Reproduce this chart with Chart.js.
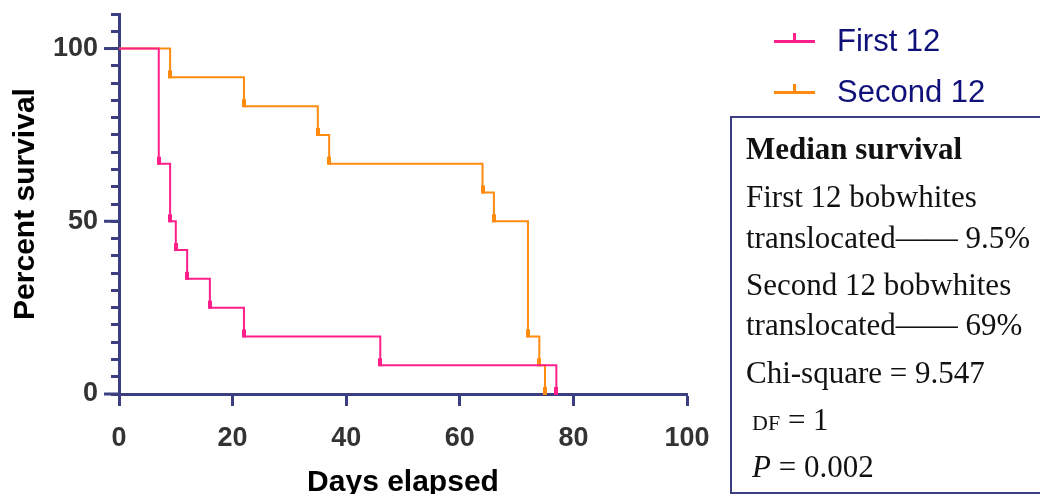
<!DOCTYPE html>
<html>
<head>
<meta charset="utf-8">
<script src="https://cdn.jsdelivr.net/npm/chart.js@4.4.1/dist/chart.umd.min.js"></script>
<style>
  html, body { margin: 0; padding: 0; background: #fff; }
  #wrap { position: relative; width: 1040px; height: 494px; overflow: hidden; }
  #c { position: absolute; left: 0; top: 0; }
  .leg { position: absolute; font-family: "Liberation Sans", Arial, sans-serif; font-size: 31px; color: #10107a; line-height: 31px; }
  .legline { position: absolute; width: 41px; height: 3px; }
  .legtick { position: absolute; width: 3px; height: 8px; }
  #box { position: absolute; left: 730px; top: 116px; width: 320px; height: 374px; border: 2px solid #3b3f82; box-sizing: content-box; }
  .bt { position: absolute; left: 746px; font-family: "Liberation Serif", "Times New Roman", serif; font-size: 31px; color: #111; white-space: nowrap; line-height: 1; }
</style>
</head>
<body>
<div id="wrap">
  <canvas id="c" width="1040" height="494"></canvas>
  <div id="legend"></div>
  <div id="box"></div>
  <div id="boxtext"></div>
</div>
<script>
// ---- Data ----
const seriesNames = ["First 12", "Second 12"];
const firstDays = [0, 7, 9, 10, 12, 16, 22, 46, 77];
const firstSurvival = [100, 66.67, 50, 41.67, 33.33, 25, 16.67, 8.33, 0];
const secondDays = [0, 9, 22, 35, 37, 64, 66, 72, 74, 75];
const secondSurvival = [100, 91.67, 83.33, 75, 66.67, 58.33, 50, 16.67, 8.33, 0];
const yMajorTicks = [0, 50, 100];
const xTickValues = [0, 20, 40, 60, 80, 100];
const boxLines = [
  "Median survival",
  "First 12 bobwhites",
  "translocated\u2014\u2014 9.5%",
  "Second 12 bobwhites",
  "translocated\u2014\u2014 69%",
  "Chi-square = 9.547",
  "DF = 1",
  "P = 0.002"
];

const PINK = "#ff1f8a";
const ORANGE = "#ff8a10";
const NAVY = "#3b3f82";

// censor-style marker: small bar sitting just above the point
function makeMarker(color) {
  const cv = document.createElement("canvas");
  cv.width = 4; cv.height = 16;
  const g = cv.getContext("2d");
  g.fillStyle = color;
  g.fillRect(0, 1, 4, 8);
  return cv;
}
const pinkMark = makeMarker(PINK);
const orangeMark = makeMarker(ORANGE);

function toPts(xs, ys) { return xs.map((x, i) => ({ x: x, y: ys[i] })); }

const majorTickPlugin = {
  id: "majorTicks",
  afterDatasetsDraw(chart) {
    const { ctx, chartArea, scales } = chart;
    ctx.save();
    ctx.strokeStyle = NAVY;
    ctx.lineWidth = 3;
    yMajorTicks.forEach(v => {
      const y = scales.y.getPixelForValue(v);
      ctx.beginPath();
      ctx.moveTo(chartArea.left - 15, y);
      ctx.lineTo(chartArea.left, y);
      ctx.stroke();
    });
    ctx.restore();
  }
};

new Chart(document.getElementById("c"), {
  type: "line",
  data: {
    datasets: [
      {
        label: seriesNames[0],
        data: toPts(firstDays, firstSurvival),
        borderColor: PINK,
        borderWidth: 2,
        stepped: "before",
        fill: false,
        pointStyle: ctx => ctx.dataIndex === 0 ? false : pinkMark,
        pointRadius: 4,
        clip: false
      },
      {
        label: seriesNames[1],
        data: toPts(secondDays, secondSurvival),
        borderColor: ORANGE,
        borderWidth: 2,
        stepped: "before",
        fill: false,
        pointStyle: ctx => ctx.dataIndex === 0 ? false : orangeMark,
        pointRadius: 4,
        clip: false
      }
    ]
  },
  options: {
    responsive: false,
    animation: false,
    devicePixelRatio: 1,
    layout: { padding: { left: 0, right: 353, top: 14, bottom: 0 } },
    plugins: { legend: { display: false }, tooltip: { enabled: false } },
    scales: {
      x: {
        type: "linear",
        min: 0, max: 100,
        afterBuildTicks: s => { s.ticks = xTickValues.map(v => ({ value: v })); },
        afterFit: s => { s.height = 100; s.paddingLeft = 0; s.paddingRight = 0; },
        border: { display: true, color: NAVY, width: 3 },
        grid: { display: true, drawOnChartArea: false, drawTicks: true, tickLength: 12, tickWidth: 3, tickColor: NAVY },
        ticks: { color: "#333", font: { family: "Liberation Sans, Arial", size: 27, weight: "bold" }, padding: 16, maxRotation: 0 },
        title: { display: true, text: "Days elapsed", color: "#000", font: { family: "Liberation Sans, Arial", size: 30, weight: "bold", lineHeight: 1.0 }, padding: { top: 8, bottom: -4 } }
      },
      y: {
        type: "linear",
        min: 0, max: 110,
        afterFit: s => { s.width = 119; s.paddingTop = 0; s.paddingBottom = 0; },
        border: { display: true, color: NAVY, width: 3 },
        grid: { display: true, drawOnChartArea: false, drawTicks: true, tickLength: 8, tickWidth: 3, tickColor: NAVY },
        ticks: {
          stepSize: 5, autoSkip: false,
          color: "#333",
          font: { family: "Liberation Sans, Arial", size: 27, weight: "bold" },
          padding: 13,
          callback: v => yMajorTicks.includes(v) ? String(v) : ""
        },
        title: { display: true, text: "Percent survival", color: "#000", font: { family: "Liberation Sans, Arial", size: 30, weight: "bold" }, padding: { top: 8, bottom: 0 } }
      }
    }
  },
  plugins: [majorTickPlugin]
});

// ---- HTML legend ----
const legend = document.getElementById("legend");
const legColors = [PINK, ORANGE];
const legY = [41, 92];
seriesNames.forEach((name, i) => {
  const ln = document.createElement("div");
  ln.className = "legline";
  ln.style.left = "774px"; ln.style.top = (legY[i] - 1) + "px"; ln.style.background = legColors[i];
  legend.appendChild(ln);
  const tk = document.createElement("div");
  tk.className = "legtick";
  tk.style.left = "793px"; tk.style.top = (legY[i] - 8) + "px"; tk.style.background = legColors[i];
  legend.appendChild(tk);
  const t = document.createElement("div");
  t.className = "leg";
  t.textContent = name;
  t.style.left = "837px"; t.style.top = (legY[i] - 16) + "px";
  legend.appendChild(t);
});

// ---- Text box ----
const boxText = document.getElementById("boxtext");
const baselines = [161, 209, 250, 297, 337, 385, 432, 479];
boxLines.forEach((line, i) => {
  const d = document.createElement("div");
  d.className = "bt";
  d.style.top = (baselines[i] - 28) + "px";
  if (i === 0) {
    d.style.fontWeight = "bold";
    d.textContent = line;
  } else if (i === 6) {
    d.style.left = "752px";
    const m = line.match(/^(DF)(.*)$/);
    const s = document.createElement("span");
    s.style.fontSize = "22px";
    s.textContent = m[1];
    d.appendChild(s);
    d.appendChild(document.createTextNode(m[2]));
  } else if (i === 7) {
    d.style.left = "752px";
    const s = document.createElement("span");
    s.style.fontStyle = "italic";
    s.textContent = line.charAt(0);
    d.appendChild(s);
    d.appendChild(document.createTextNode(line.slice(1)));
  } else {
    d.textContent = line;
  }
  boxText.appendChild(d);
});
</script>
</body>
</html>
